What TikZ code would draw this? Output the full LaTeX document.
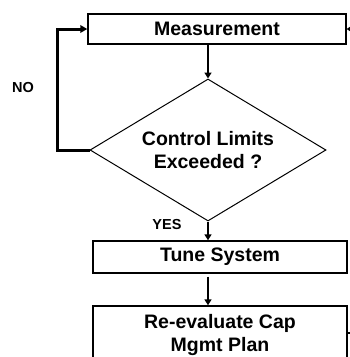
\documentclass[tikz,border=0pt]{standalone}
\usepackage{fontspec}
\setmainfont{Liberation Sans}
\usetikzlibrary{shapes.geometric,arrows.meta,calc}
\tikzset{
  stepbox/.style={draw, line width=1.4pt, fill=white, inner sep=0pt, align=center,
    font=\fontsize{19.5}{23}\selectfont\bfseries},
  decision/.style={draw, diamond, line width=1pt, inner sep=0pt, align=center,
    minimum width=236pt, minimum height=142pt, shape aspect=1.66,
    font=\fontsize{19.5}{23}\selectfont\bfseries},
  flow/.style={line width=2.3pt, -{Triangle[length=6pt,width=7pt]}},
  loopline/.style={line width=3pt, -{Triangle[length=7pt,width=7.5pt]}},
  lbl/.style={font=\fontsize{14.5}{16}\selectfont\bfseries, inner sep=0pt}
}
\begin{document}
\begin{tikzpicture}[x=1pt,y=-1pt]
\useasboundingbox (0,0) rectangle (350,357);
\begin{scope}
\clip (0,0) rectangle (350,357);
% process steps
\node[stepbox, minimum width=258pt, minimum height=30pt] (meas) at (217,29) {Measurement};
\node[decision] (dia) at (208,150) {Control Limits\\Exceeded ?};
\node[stepbox, minimum width=254pt, minimum height=32pt] (tune) at (220,257) {Tune System};
\node[stepbox, minimum width=254pt, minimum height=57pt] (plan) at (220,334.5) {Re-evaluate Cap\\Mgmt Plan};
% labels
\node[lbl] (no) at (23,88) {NO};
\node[lbl] (yes) at (167,225) {YES};
% connectors
\draw[flow] (meas.south -| dia.north) -- (dia.north);
\draw[loopline] (dia.west) -- ++(-32,0) |- (meas.west);
\draw[flow] (dia.south) -- (dia.south |- tune.north);
\draw[flow, shorten <=3pt] (tune.south -| dia.south) -- (plan.north -| dia.south);
% return path entering from the right
\coordinate (rin) at ($(meas.east)+(6,0)$);
\draw[line width=1.5pt, -{Triangle[length=4pt,width=5pt]}] (rin) -- (meas.east);
\coordinate (rout) at ($(plan.east |- 0,333)+(8,0)$);
\draw[line width=2pt] (plan.east |- rout) -- (rout);
\end{scope}
\end{tikzpicture}
\end{document}
